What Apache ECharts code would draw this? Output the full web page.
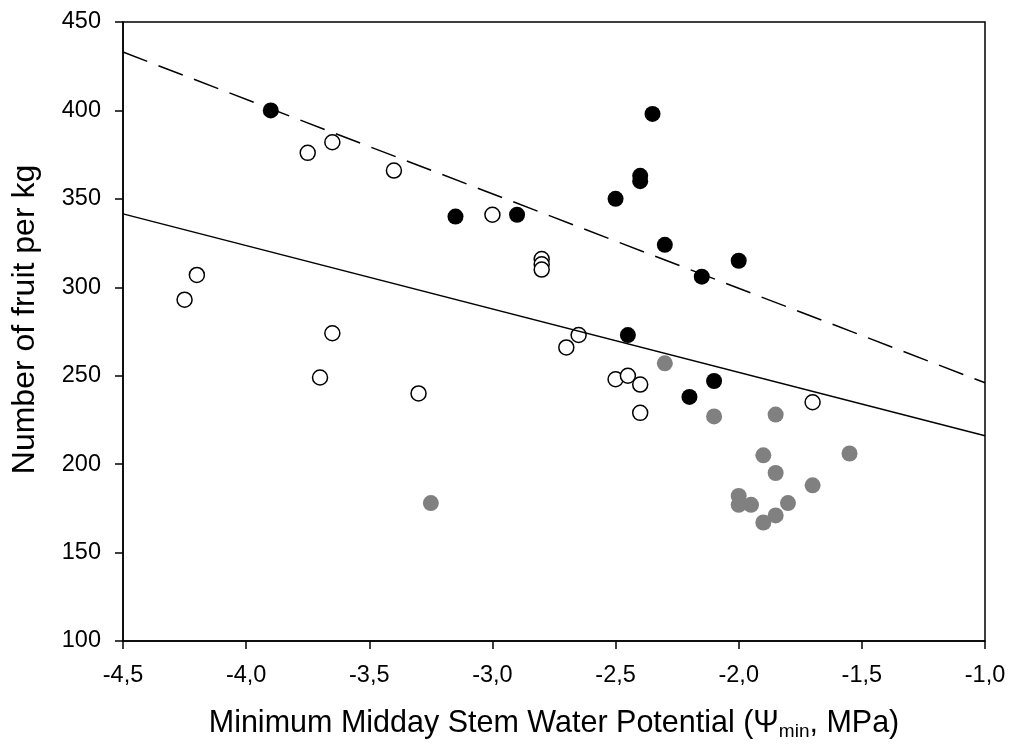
<!DOCTYPE html>
<html>
<head>
<meta charset="utf-8">
<script src="https://cdn.jsdelivr.net/npm/echarts@6/dist/echarts.min.js"></script>
<style>
  html, body { margin: 0; padding: 0; background: #fff; }
  #chart { width: 1009px; height: 751px; }
</style>
</head>
<body>
<div id="chart"></div>
<script>
// open circles
var openPts = [
  [-4.25, 293], [-4.20, 307], [-3.75, 376], [-3.65, 382], [-3.40, 366],
  [-3.00, 341], [-2.80, 316], [-2.80, 313], [-2.80, 310], [-3.65, 274],
  [-3.70, 249], [-3.30, 240], [-2.70, 266], [-2.65, 273], [-2.50, 248],
  [-2.45, 250], [-2.40, 245], [-2.40, 229], [-1.70, 235]
];
// filled black circles
var blackPts = [
  [-3.90, 400], [-3.15, 340], [-2.90, 341], [-2.50, 350], [-2.40, 363],
  [-2.40, 360], [-2.35, 398], [-2.30, 324], [-2.15, 306], [-2.00, 315],
  [-2.45, 273], [-2.20, 238], [-2.10, 247]
];
// filled grey circles
var greyPts = [
  [-3.25, 178], [-2.30, 257], [-2.10, 227], [-1.85, 228], [-1.90, 205],
  [-1.85, 195], [-1.55, 206], [-1.70, 188], [-2.00, 182], [-2.00, 177],
  [-1.95, 177], [-1.80, 178], [-1.85, 171], [-1.90, 167]
];
// regression lines (end points)
var dashedFit = [[-4.5, 433], [-1.0, 246]];
var solidFit = [[-4.5, 341.5], [-1.0, 216]];

var xTicks = { min: -4.5, max: -1.0, step: 0.5 };
var yTicks = { min: 100, max: 450, step: 50 };

var font = 'Liberation Sans, Arial, sans-serif';

var chart = echarts.init(document.getElementById('chart'));
chart.setOption({
  animation: false,
  grid: {
    left: 123, right: 24, top: 22, bottom: 110,
    show: true, borderColor: '#000', borderWidth: 1.5
  },
  xAxis: {
    type: 'value',
    min: xTicks.min, max: xTicks.max, interval: xTicks.step,
    splitLine: { show: false },
    axisLine: { show: true, onZero: false, lineStyle: { color: '#000', width: 1.5 } },
    axisTick: { show: true, inside: false, length: 8, lineStyle: { color: '#000', width: 1.5 } },
    axisLabel: {
      color: '#000', fontSize: 23.5, fontFamily: font, margin: 23,
      formatter: function (v) { return v.toFixed(1).replace('.', ','); }
    },
    name: '{t|Minimum Midday Stem Water Potential (Ψ}{sub|min}{t|, MPa)}',
    nameLocation: 'middle',
    nameGap: 66,
    nameTextStyle: {
      rich: {
        t: { color: '#000', fontSize: 30.5, fontFamily: font, lineHeight: 34 },
        sub: { color: '#000', fontSize: 19, fontFamily: font, verticalAlign: 'bottom', lineHeight: 19 }
      }
    }
  },
  yAxis: {
    type: 'value',
    min: yTicks.min, max: yTicks.max, interval: yTicks.step,
    splitLine: { show: false },
    axisLine: { show: true, onZero: false, lineStyle: { color: '#000', width: 1.5 } },
    axisTick: { show: true, inside: false, length: 8, lineStyle: { color: '#000', width: 1.5 } },
    axisLabel: { color: '#000', fontSize: 23.5, fontFamily: font, margin: 22 },
    name: 'Number of fruit per kg',
    nameLocation: 'middle',
    nameGap: 82,
    nameTextStyle: { color: '#000', fontSize: 32, fontFamily: font, padding: [0, 0, 0, 24] }
  },
  series: [
    {
      type: 'line', data: solidFit, symbol: 'none', silent: true,
      lineStyle: { color: '#000', width: 1.5 }
    },
    {
      type: 'line', data: dashedFit, symbol: 'none', silent: true,
      lineStyle: { color: '#000', width: 1.5, type: [26, 12] }
    },
    {
      type: 'scatter', data: openPts, symbol: 'circle', symbolSize: 15,
      itemStyle: { color: '#fff', borderColor: '#000', borderWidth: 1.5, opacity: 1 }
    },
    {
      type: 'scatter', data: blackPts, symbol: 'circle', symbolSize: 16,
      itemStyle: { color: '#000', opacity: 1 }
    },
    {
      type: 'scatter', data: greyPts, symbol: 'circle', symbolSize: 16,
      itemStyle: { color: '#808080', opacity: 1 }
    }
  ]
});
</script>
</body>
</html>
